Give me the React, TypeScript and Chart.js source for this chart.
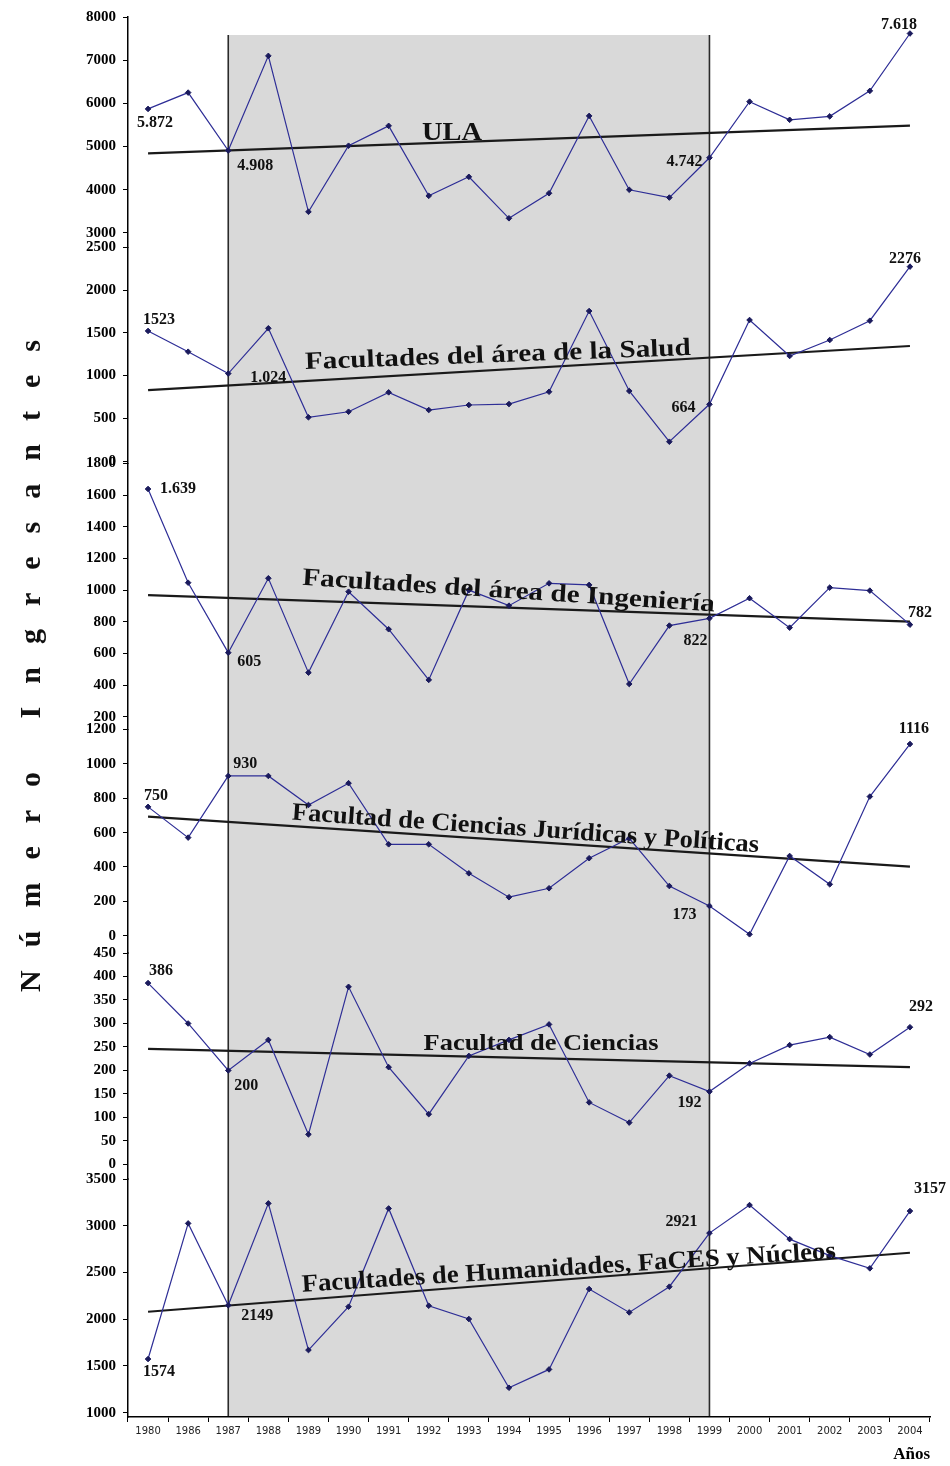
import React, { useEffect, useRef } from 'react';
import { Chart, registerables } from 'chart.js';

Chart.register(...registerables);

// ---------- DATA ----------
const years = ['1980', '1986', '1987', '1988', '1989', '1990', '1991', '1992', '1993', '1994',
  '1995', '1996', '1997', '1998', '1999', '2000', '2001', '2002', '2003', '2004'];

const ula = [5872, 6250, 4908, 7100, 3490, 5020, 5480, 3860, 4300, 3340, 3920, 5710, 4000, 3820, 4742, 6040, 5620, 5700, 6290, 7618];
const salud = [1523, 1280, 1024, 1554, 512, 577, 804, 597, 656, 667, 811, 1756, 820, 226, 664, 1651, 1230, 1417, 1643, 2276];
const ingenieria = [1639, 1047, 605, 1075, 479, 990, 753, 433, 1000, 902, 1043, 1033, 407, 776, 822, 949, 763, 1016, 997, 782];
const juridicas = [750, 571, 930, 930, 761, 888, 532, 532, 363, 224, 276, 451, 567, 289, 173, 8, 464, 299, 810, 1116];
const ciencias = [386, 300, 200, 265, 64, 378, 207, 107, 231, 265, 298, 132, 89, 189, 155, 215, 254, 271, 234, 292];
const humanidades = [1574, 3025, 2149, 3239, 1670, 2134, 3185, 2144, 2002, 1267, 1463, 2323, 2073, 2348, 2921, 3221, 2857, 2680, 2544, 3157];

// trend line values at first and last year
const ulaTrend = [4845, 5484];
const saludTrend = [831, 1347];
const ingenieriaTrend = [969, 801];
const juridicasTrend = [693, 402];
const cienciasTrend = [246, 207];
const humanidadesTrend = [2080, 2711];

// tick labels of each panel
const ulaTicks = [3000, 4000, 5000, 6000, 7000, 8000];
const saludTicks = [0, 500, 1000, 1500, 2000, 2500];
const ingenieriaTicks = [200, 400, 600, 800, 1000, 1200, 1400, 1600, 1800];
const juridicasTicks = [0, 200, 400, 600, 800, 1000, 1200];
const cienciasTicks = [0, 50, 100, 150, 200, 250, 300, 350, 400, 450];
const humanidadesTicks = [1000, 1500, 2000, 2500, 3000, 3500];

// value labels written on the chart (years 1980, 1987, 1999, 2004)
const labelYears = ['1980', '1987', '1999', '2004'];
const ulaLabels = ['5.872', '4.908', '4.742', '7.618'];
const saludLabels = ['1523', '1.024', '664', '2276'];
const ingenieriaLabels = ['1.639', '605', '822', '782'];
const juridicasLabels = ['750', '930', '173', '1116'];
const cienciasLabels = ['386', '200', '192', '292'];
const humanidadesLabels = ['1574', '2149', '2921', '3157'];

const panelNames = [
  'ULA',
  'Facultades del área de la Salud',
  'Facultades del área de Ingeniería',
  'Facultad de Ciencias Jurídicas y Políticas',
  'Facultad de Ciencias',
  'Facultades de Humanidades, FaCES y Núcleos',
];

const shadeFrom = '1987';
const shadeTo = '1999';
const yTitle = 'Número Ingresantes';
const xTitle = 'Años';

// ---------- STYLE / LAYOUT ----------
const SERIF = '"Liberation Serif", "Times New Roman", serif';
const LINE = '#2e2e96';
const MARK = '#1a1a5c';

type Panel = {
  id: string; values: number[]; trend: number[]; ticks: number[]; labels: string[]; name: string;
  min: number; max: number; weight: number;
  title: { idx: number; val: number; angle: number; width: number; size: number };
  offsets: [number, number][];
};

const panels: Panel[] = [
  {
    id: 'yULA', values: ula, trend: ulaTrend, ticks: ulaTicks, labels: ulaLabels, name: panelNames[0],
    min: 2664, max: 8000, weight: 230.5,
    title: { idx: 7.58, val: 5153, angle: 0, width: 60, size: 26 },
    offsets: [[7, 14], [27, 15], [-25, 4], [-11, -9]],
  },
  {
    id: 'ySalud', values: salud, trend: saludTrend, ticks: saludTicks, labels: saludLabels, name: panelNames[1],
    min: -29, max: 2500, weight: 216,
    title: { idx: 8.73, val: 1159, angle: -2.1, width: 386, size: 25 },
    offsets: [[11, -11], [40, 4], [-26, 4], [-5, -8]],
  },
  {
    id: 'yIng', values: ingenieria, trend: ingenieriaTrend, ticks: ingenieriaTicks, labels: ingenieriaLabels, name: panelNames[2],
    min: 119, max: 1800, weight: 266.1,
    title: { idx: 8.98, val: 950, angle: 3.7, width: 413, size: 25 },
    offsets: [[30, 0], [21, 9], [-14, 23], [10, -12]],
  },
  {
    id: 'yJur', values: juridicas, trend: juridicasTrend, ticks: juridicasTicks, labels: juridicasLabels, name: panelNames[3],
    min: -101, max: 1200, weight: 223.4,
    title: { idx: 9.4, val: 581, angle: 4.0, width: 468, size: 25 },
    offsets: [[8, -11], [17, -12], [-25, 9], [4, -15]],
  },
  {
    id: 'yCie', values: ciencias, trend: cienciasTrend, ticks: cienciasTicks, labels: cienciasLabels, name: panelNames[4],
    min: -31, max: 450, weight: 226,
    title: { idx: 9.8, val: 244, angle: 0, width: 235, size: 24 },
    offsets: [[13, -12], [18, 15], [-20, 11], [11, -20]],
  },
  {
    id: 'yHum', values: humanidades, trend: humanidadesTrend, ticks: humanidadesTicks, labels: humanidadesLabels, name: panelNames[5],
    min: 954, max: 3500, weight: 238,
    title: { idx: 10.5, val: 2473, angle: -3.6, width: 535, size: 25 },
    offsets: [[11, 13], [29, 11], [-28, -11], [20, -22]],
  },
];

const SHADE_TOP_ULA = 7583; // top of the shaded period, on the ULA axis

export default function App() {
  const ref = useRef<HTMLCanvasElement | null>(null);

  useEffect(() => {
    if (!ref.current) return;

    const datasets: any[] = [];
    panels.forEach((p) => {
      datasets.push({
        label: p.name,
        data: p.values,
        yAxisID: p.id,
        borderColor: LINE,
        borderWidth: 1.2,
        pointStyle: 'rectRot',
        pointRadius: 2.8,
        pointBackgroundColor: MARK,
        pointBorderColor: MARK,
        pointBorderWidth: 1,
        tension: 0,
        fill: false,
      });
      const trendData: (number | null)[] = years.map(() => null);
      trendData[0] = p.trend[0];
      trendData[years.length - 1] = p.trend[1];
      datasets.push({
        label: p.name + ' (tendencia)',
        data: trendData,
        yAxisID: p.id,
        borderColor: '#1a1a1a',
        borderWidth: 2.2,
        pointRadius: 0,
        spanGaps: true,
        fill: false,
      });
    });

    const scales: any = {
      x: {
        type: 'category',
        labels: years,
        offset: true,
        grid: { offset: true, drawOnChartArea: false, drawTicks: true, tickLength: 5, color: '#000' },
        border: { display: true, color: '#000', width: 1.5 },
        ticks: {
          color: '#222', maxRotation: 0, minRotation: 0, autoSkip: false, padding: 3,
          font: { family: '"DejaVu Sans", sans-serif', size: 10 },
        },
        title: {
          display: true, text: xTitle, align: 'end', color: '#000',
          font: { family: SERIF, size: 17, weight: 'bold' }, padding: { top: 0, bottom: 1 },
        },
        afterFit: (s: any) => { s.height = 49; },
      },
    };

    // bottom panel first: stacked axes are placed from the bottom up
    [...panels].reverse().forEach((p, i) => {
      scales[p.id] = {
        type: 'linear',
        position: 'left',
        stack: 'panels',
        stackWeight: p.weight,
        weight: i + 1,
        min: p.min,
        max: p.max,
        afterBuildTicks: (s: any) => { s.ticks = p.ticks.map((v) => ({ value: v })); },
        afterFit: (s: any) => { s.width = 128; },
        grid: { drawOnChartArea: false, drawTicks: true, tickLength: 5, color: '#000' },
        border: { display: true, color: '#000', width: 1.5 },
        ticks: {
          autoSkip: false, color: '#000', padding: 7,
          font: { family: SERIF, size: 15, weight: 'bold' },
          callback: (v: any) => String(v),
        },
      };
    });

    const overlay = {
      id: 'overlay',
      beforeDatasetsDraw(chart: any) {
        const { ctx, chartArea, scales: sc } = chart;
        const x0 = sc.x.getPixelForValue(years.indexOf(shadeFrom));
        const x1 = sc.x.getPixelForValue(years.indexOf(shadeTo));
        const top = sc.yULA.getPixelForValue(SHADE_TOP_ULA);
        const bottom = chartArea.bottom - 1;
        ctx.save();
        ctx.fillStyle = '#d9d9d9';
        ctx.fillRect(x0, top, x1 - x0, bottom - top);
        ctx.strokeStyle = '#2a2a2a';
        ctx.lineWidth = 1.6;
        ctx.beginPath();
        ctx.moveTo(x0, top); ctx.lineTo(x0, bottom);
        ctx.moveTo(x1, top); ctx.lineTo(x1, bottom);
        ctx.stroke();
        ctx.restore();
      },
      afterDatasetsDraw(chart: any) {
        const { ctx, scales: sc } = chart;
        ctx.save();
        panels.forEach((p) => {
          const ys = sc[p.id];
          // panel title
          const t = p.title;
          const tx = sc.x.getPixelForValue(t.idx);
          const ty = ys.getPixelForValue(t.val);
          ctx.save();
          ctx.font = `bold ${t.size}px ${SERIF}`;
          const w = ctx.measureText(p.name).width;
          ctx.translate(tx, ty);
          ctx.rotate((t.angle * Math.PI) / 180);
          ctx.scale(t.width / w, 1);
          ctx.fillStyle = '#111';
          ctx.textAlign = 'center';
          ctx.textBaseline = 'alphabetic';
          ctx.fillText(p.name, 0, 0);
          ctx.restore();
          // value labels
          ctx.font = `bold 16px ${SERIF}`;
          ctx.fillStyle = '#111';
          ctx.textAlign = 'center';
          ctx.textBaseline = 'middle';
          labelYears.forEach((yr, k) => {
            const idx = years.indexOf(yr);
            const px = sc.x.getPixelForValue(idx);
            const py = ys.getPixelForValue(p.values[idx]);
            const [dx, dy] = p.offsets[k];
            ctx.fillText(p.labels[k], px + dx, py + dy);
          });
        });
        ctx.restore();
      },
      afterDraw(chart: any) {
        const { ctx } = chart;
        ctx.save();
        ctx.font = `bold 30px ${SERIF}`;
        ctx.fillStyle = '#111';
        ctx.textBaseline = 'middle';
        ctx.textAlign = 'left';
        const gap = 23;
        const chars = Array.from(yTitle);
        const total = chars.reduce((s, c) => s + ctx.measureText(c).width, 0) + gap * (chars.length - 1);
        ctx.translate(32, 666);
        ctx.rotate(-Math.PI / 2);
        let x = -total / 2;
        chars.forEach((c) => {
          ctx.fillText(c, x, 0);
          x += ctx.measureText(c).width + gap;
        });
        ctx.restore();
      },
    };

    const chart = new Chart(ref.current, {
      type: 'line',
      data: { labels: years, datasets },
      options: {
        animation: false,
        responsive: true,
        maintainAspectRatio: false,
        layout: { padding: { top: 17, left: 0, right: 20, bottom: 0 } },
        plugins: { legend: { display: false }, tooltip: { enabled: false }, title: { display: false } },
        scales,
      } as any,
      plugins: [overlay],
    });
    return () => chart.destroy();
  }, []);

  return (
    <div style={{ position: 'absolute', left: 0, top: 0, width: 950, height: 1466, background: '#fff' }}>
      <canvas ref={ref} />
    </div>
  );
}
